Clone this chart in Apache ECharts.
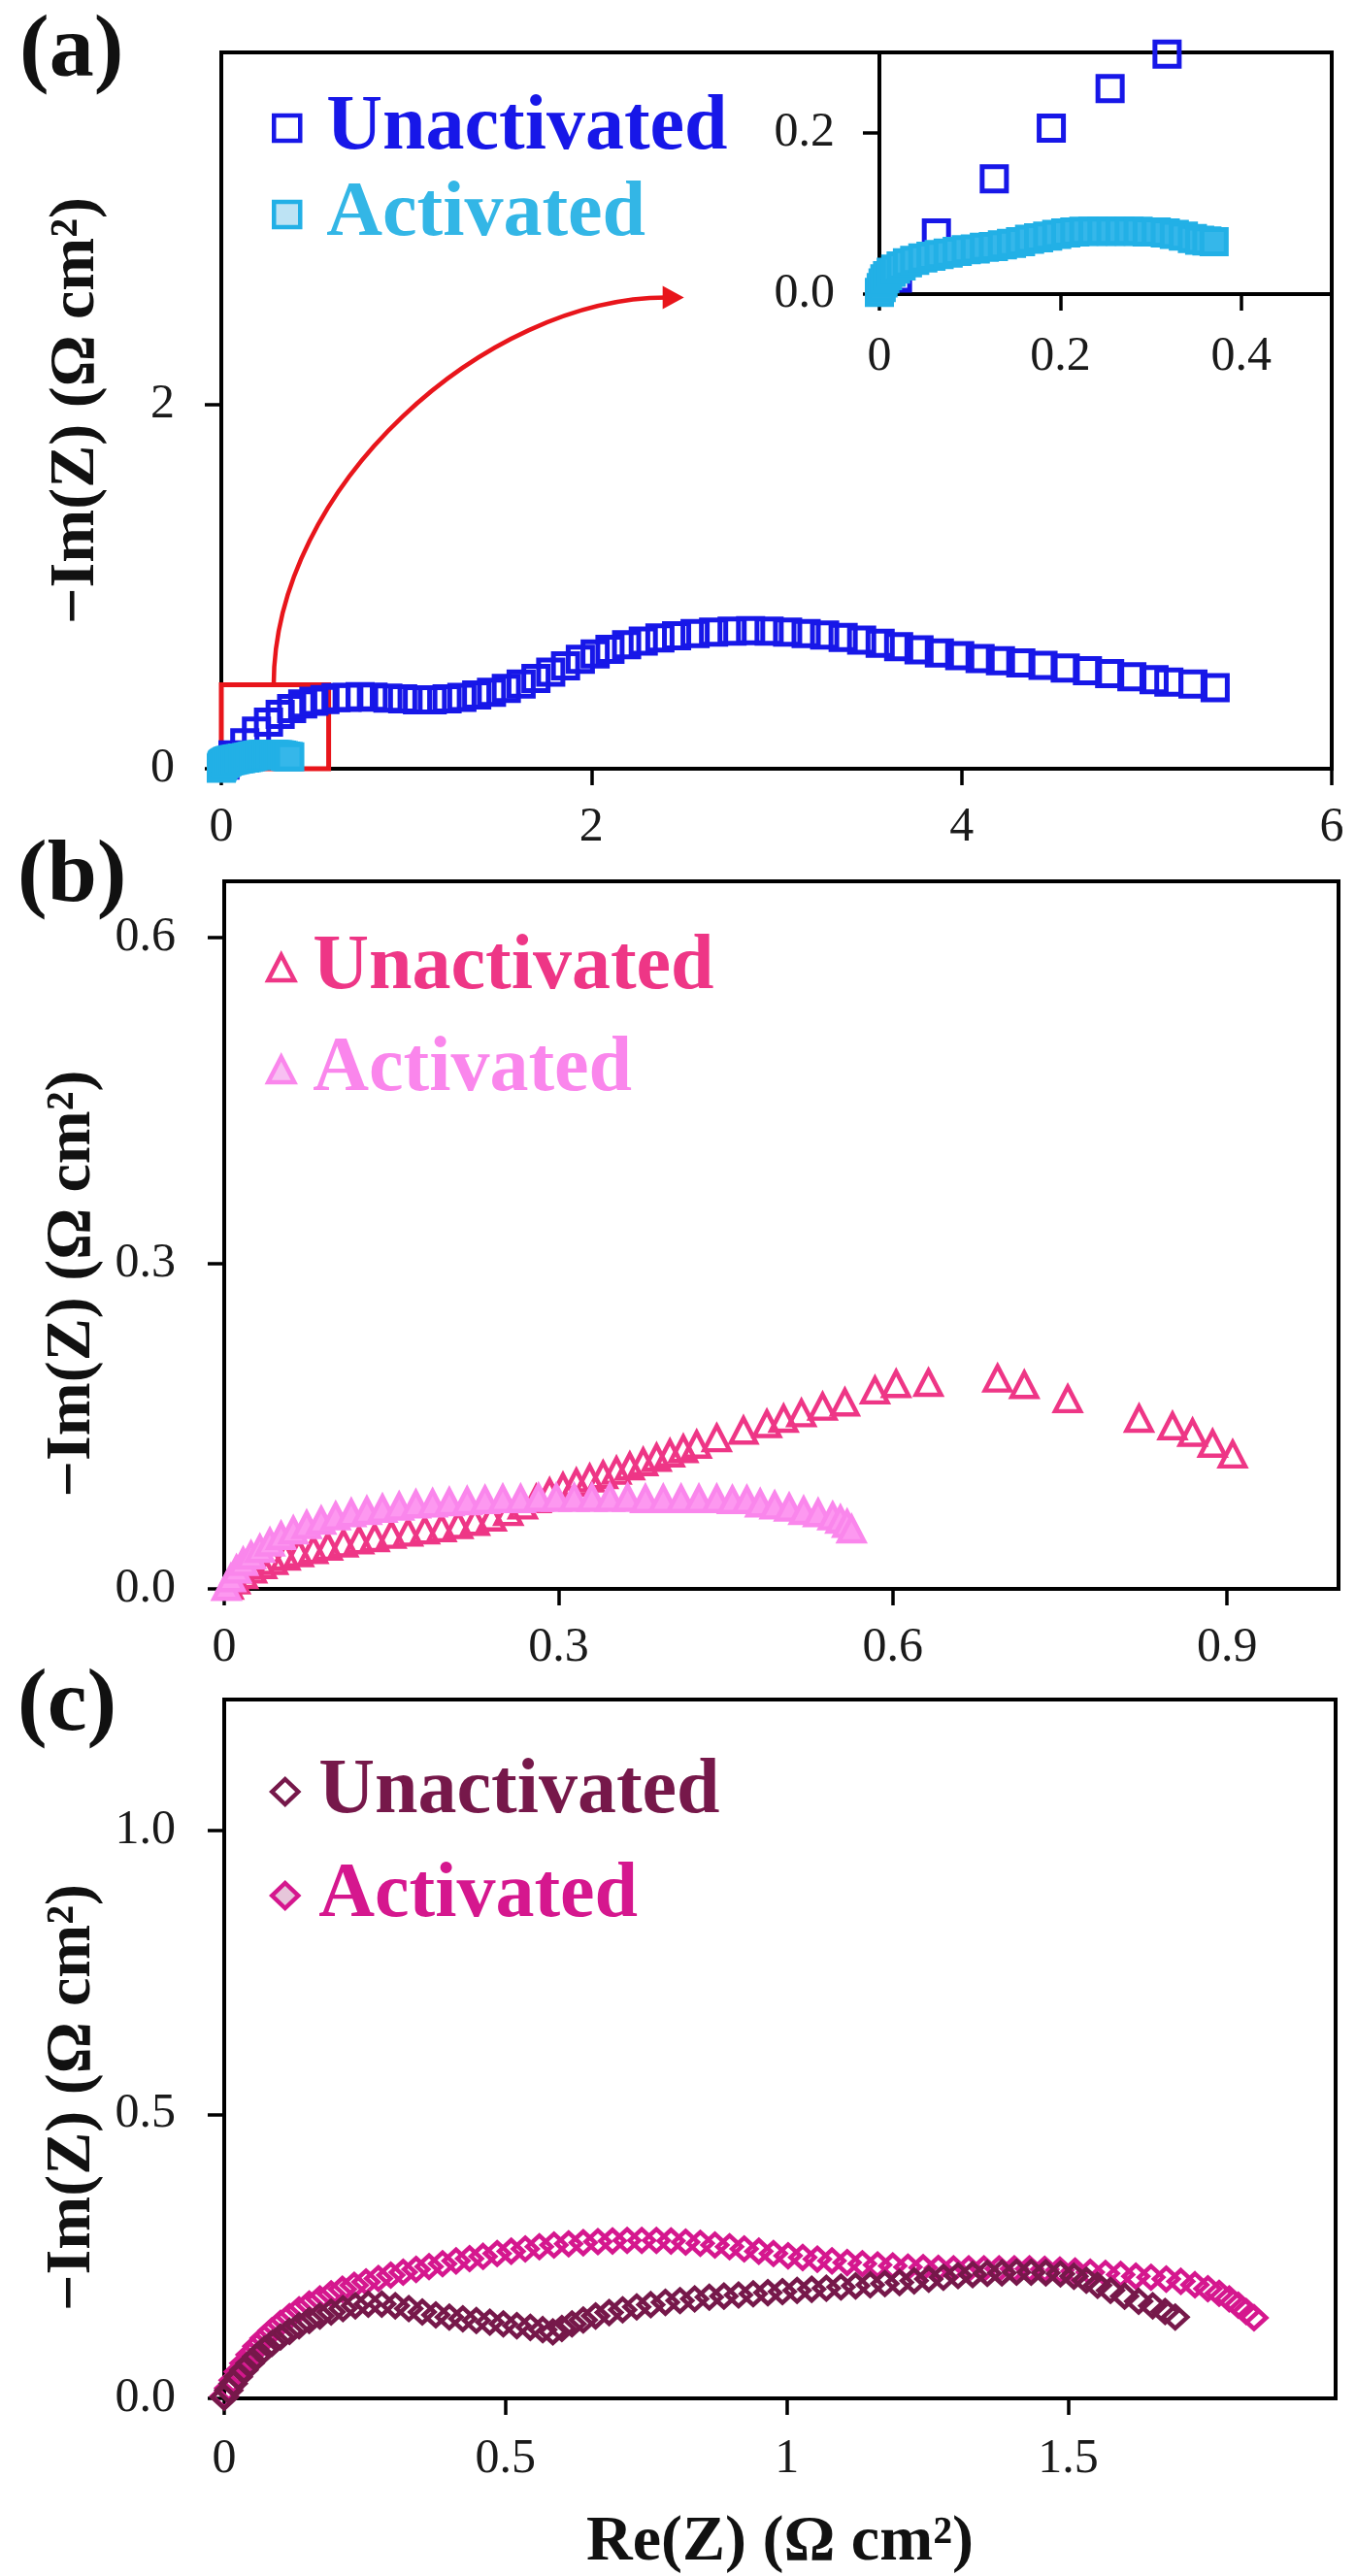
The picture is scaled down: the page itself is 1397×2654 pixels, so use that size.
<!DOCTYPE html>
<html>
<head>
<meta charset="utf-8">
<script src="https://cdn.jsdelivr.net/npm/echarts@6/dist/echarts.min.js"></script>
<style>
    html, body { margin: 0; background: #fff; }
    #chart { width: 1397px; height: 2654px; }
</style>
</head>
<body>
<div id="chart"></div>
<script>
// (a) Re(Z), -Im(Z) in ohm cm2
const unactivatedA = [
    [0.020, 0.020], [0.063, 0.076], [0.127, 0.143], [0.190, 0.206], [0.255, 0.255], [0.318, 0.298],
    [0.380, 0.330], [0.440, 0.355], [0.500, 0.370], [0.560, 0.380], [0.620, 0.390], [0.680, 0.392],
    [0.750, 0.395], [0.820, 0.393], [0.900, 0.388], [0.980, 0.383], [1.060, 0.378], [1.140, 0.378],
    [1.220, 0.383], [1.300, 0.392], [1.380, 0.405], [1.460, 0.420], [1.540, 0.440], [1.620, 0.465],
    [1.700, 0.495], [1.780, 0.530], [1.860, 0.565], [1.940, 0.600], [2.020, 0.630], [2.100, 0.655],
    [2.190, 0.680], [2.280, 0.700], [2.370, 0.717], [2.460, 0.730], [2.560, 0.742], [2.660, 0.750],
    [2.760, 0.755], [2.860, 0.757], [2.960, 0.755], [3.060, 0.750], [3.160, 0.742], [3.260, 0.733],
    [3.360, 0.720], [3.460, 0.705], [3.560, 0.688], [3.660, 0.670], [3.770, 0.652], [3.880, 0.635],
    [3.990, 0.620], [4.100, 0.605], [4.210, 0.592], [4.320, 0.580], [4.440, 0.567], [4.560, 0.553],
    [4.680, 0.538], [4.800, 0.522], [4.920, 0.505], [5.040, 0.488], [5.120, 0.475], [5.250, 0.465],
    [5.370, 0.445]
];
const activatedA = [
    [0.000, 0.002], [0.002, 0.008], [0.004, 0.014], [0.006, 0.019], [0.009, 0.023], [0.013, 0.027],
    [0.018, 0.031], [0.024, 0.035], [0.031, 0.039], [0.039, 0.042], [0.048, 0.045], [0.057, 0.047],
    [0.066, 0.049], [0.076, 0.051], [0.086, 0.053], [0.096, 0.055], [0.106, 0.056], [0.116, 0.058],
    [0.126, 0.059], [0.136, 0.061], [0.146, 0.063], [0.156, 0.065], [0.166, 0.068], [0.176, 0.070],
    [0.186, 0.072], [0.196, 0.074], [0.206, 0.076], [0.216, 0.077], [0.226, 0.078], [0.236, 0.078],
    [0.246, 0.078], [0.256, 0.078], [0.266, 0.078], [0.276, 0.078], [0.286, 0.078], [0.296, 0.077],
    [0.306, 0.077], [0.316, 0.076], [0.326, 0.074], [0.336, 0.072], [0.346, 0.069], [0.354, 0.067],
    [0.362, 0.066], [0.370, 0.065]
];

// (b)
const unactivatedB = [
    [0.004, 0.003], [0.010, 0.008], [0.017, 0.013], [0.025, 0.018], [0.034, 0.022], [0.044, 0.026],
    [0.055, 0.030], [0.067, 0.033], [0.080, 0.036], [0.093, 0.039], [0.107, 0.042], [0.121, 0.045],
    [0.135, 0.047], [0.150, 0.050], [0.165, 0.052], [0.180, 0.054], [0.195, 0.056], [0.210, 0.059],
    [0.225, 0.062], [0.240, 0.066], [0.255, 0.071], [0.268, 0.077], [0.280, 0.083], [0.292, 0.089],
    [0.304, 0.094], [0.316, 0.098], [0.328, 0.102], [0.340, 0.105], [0.352, 0.109], [0.364, 0.113],
    [0.376, 0.117], [0.388, 0.121], [0.400, 0.125], [0.412, 0.129], [0.424, 0.133], [0.442, 0.139],
    [0.466, 0.146], [0.487, 0.152], [0.502, 0.157], [0.518, 0.162], [0.537, 0.168], [0.557, 0.172],
    [0.584, 0.183], [0.603, 0.189], [0.632, 0.190], [0.694, 0.194], [0.718, 0.188], [0.757, 0.175],
    [0.821, 0.157], [0.851, 0.150], [0.869, 0.144], [0.887, 0.134], [0.905, 0.124]
];
const activatedB = [
    [0.002, 0.002], [0.006, 0.010], [0.011, 0.018], [0.017, 0.025], [0.024, 0.031], [0.032, 0.037],
    [0.041, 0.043], [0.051, 0.049], [0.062, 0.054], [0.074, 0.059], [0.087, 0.063], [0.100, 0.067],
    [0.114, 0.070], [0.128, 0.072], [0.142, 0.074], [0.157, 0.076], [0.172, 0.078], [0.187, 0.079],
    [0.202, 0.080], [0.218, 0.081], [0.234, 0.082], [0.250, 0.083], [0.266, 0.083], [0.282, 0.084],
    [0.298, 0.084], [0.314, 0.084], [0.330, 0.084], [0.346, 0.084], [0.362, 0.084], [0.378, 0.083],
    [0.394, 0.083], [0.410, 0.083], [0.426, 0.083], [0.442, 0.083], [0.456, 0.082], [0.469, 0.082],
    [0.481, 0.079], [0.494, 0.077], [0.507, 0.075], [0.520, 0.072], [0.533, 0.070], [0.546, 0.067],
    [0.553, 0.064], [0.559, 0.060], [0.563, 0.055]
];

// (c)
const unactivatedC = [
    [0.000, 0.002], [0.008, 0.014], [0.016, 0.026], [0.025, 0.038], [0.035, 0.050], [0.046, 0.062],
    [0.058, 0.074], [0.071, 0.086], [0.085, 0.097], [0.100, 0.108], [0.116, 0.118], [0.133, 0.128],
    [0.151, 0.137], [0.170, 0.145], [0.190, 0.152], [0.211, 0.158], [0.233, 0.163], [0.256, 0.166],
    [0.280, 0.166], [0.304, 0.163], [0.328, 0.158], [0.352, 0.152], [0.376, 0.147], [0.400, 0.143],
    [0.424, 0.140], [0.448, 0.137], [0.472, 0.134], [0.496, 0.131], [0.520, 0.128], [0.544, 0.125],
    [0.566, 0.121], [0.584, 0.117], [0.600, 0.123], [0.618, 0.131], [0.638, 0.138], [0.660, 0.145],
    [0.684, 0.151], [0.708, 0.156], [0.733, 0.161], [0.758, 0.165], [0.784, 0.169], [0.810, 0.172],
    [0.836, 0.175], [0.862, 0.178], [0.888, 0.180], [0.914, 0.182], [0.940, 0.184], [0.966, 0.186],
    [0.992, 0.188], [1.018, 0.190], [1.044, 0.192], [1.070, 0.194], [1.096, 0.196], [1.122, 0.198],
    [1.148, 0.200], [1.174, 0.202], [1.200, 0.204], [1.226, 0.207], [1.252, 0.210], [1.278, 0.213],
    [1.304, 0.216], [1.330, 0.218], [1.356, 0.220], [1.382, 0.221], [1.408, 0.222], [1.434, 0.222],
    [1.460, 0.221], [1.486, 0.219], [1.510, 0.215], [1.532, 0.208], [1.552, 0.199], [1.575, 0.190],
    [1.600, 0.180], [1.625, 0.171], [1.650, 0.163], [1.672, 0.153], [1.690, 0.143]
];
const activatedC = [
    [0.000, 0.004], [0.008, 0.018], [0.016, 0.032], [0.025, 0.047], [0.035, 0.062], [0.046, 0.077],
    [0.058, 0.092], [0.071, 0.106], [0.085, 0.119], [0.100, 0.132], [0.116, 0.144], [0.133, 0.156],
    [0.151, 0.166], [0.170, 0.175], [0.190, 0.184], [0.210, 0.192], [0.231, 0.199], [0.252, 0.205],
    [0.274, 0.211], [0.296, 0.217], [0.318, 0.222], [0.341, 0.227], [0.364, 0.232], [0.388, 0.237],
    [0.412, 0.242], [0.436, 0.246], [0.460, 0.250], [0.485, 0.255], [0.510, 0.259], [0.535, 0.263],
    [0.560, 0.267], [0.586, 0.270], [0.612, 0.272], [0.638, 0.274], [0.664, 0.276], [0.690, 0.277],
    [0.716, 0.278], [0.742, 0.278], [0.768, 0.278], [0.794, 0.277], [0.820, 0.275], [0.846, 0.273],
    [0.872, 0.270], [0.898, 0.267], [0.924, 0.263], [0.950, 0.259], [0.976, 0.255], [1.002, 0.251],
    [1.028, 0.248], [1.054, 0.245], [1.080, 0.242], [1.107, 0.239], [1.134, 0.237], [1.161, 0.235],
    [1.188, 0.233], [1.215, 0.231], [1.242, 0.230], [1.269, 0.229], [1.296, 0.228], [1.323, 0.228],
    [1.350, 0.228], [1.377, 0.228], [1.404, 0.228], [1.431, 0.228], [1.458, 0.227], [1.485, 0.226],
    [1.512, 0.224], [1.539, 0.222], [1.566, 0.220], [1.593, 0.218], [1.620, 0.215], [1.647, 0.213],
    [1.674, 0.210], [1.700, 0.206], [1.725, 0.200], [1.748, 0.193], [1.768, 0.185], [1.786, 0.175],
    [1.802, 0.164], [1.816, 0.153], [1.830, 0.142]
];

// tick values
const ticksAX = [0, 2, 4, 6];
const ticksAY = [0, 2];
const ticksInsetX = [0, 0.2, 0.4];
const ticksInsetY = [0, 0.2];
const ticksBX = [0, 0.3, 0.6, 0.9];
const ticksBY = [0, 0.3, 0.6];
const ticksCX = [0, 0.5, 1, 1.5];
const ticksCY = [0, 0.5, 1.0];

(function () {
    let chart = echarts.init(document.getElementById('chart'));
    const serif = "'Liberation Serif', 'Times New Roman', serif";

    const blue = '#1717E8', cyan = '#22B0E6';
    const pink = '#EE3686', lightPink = '#FA86EC';
    const maroon = '#76184A', magenta = '#D5178E';
    const red = '#E8151B';

    function valueAxis(grid, min, max, ticks, fmt, margin, extra) {
        return Object.assign({
            type: 'value',
            gridIndex: grid,
            min: min,
            max: max,
            interval: ticks[1] - ticks[0],
            axisLine: { show: true, onZero: false, lineStyle: { color: '#000', width: 4 } },
            axisTick: {
                show: true, inside: false, length: 17, customValues: ticks,
                lineStyle: { color: '#000', width: 3.5 }
            },
            axisLabel: {
                fontFamily: serif, fontSize: 50, color: '#1a1a1a', margin: margin,
                formatter: fmt, customValues: ticks
            },
            splitLine: { show: false }
        }, extra || {});
    }

    const plain = function (v) { return String(v); };
    const oneDec = function (v) { return v.toFixed(1); };

    function yName(shift) {
        return {
            name: '\u2212Im(Z) (\u03A9 cm\u00B2)',
            nameLocation: 'middle',
            nameRotate: 90,
            nameGap: 116,
            nameTextStyle: {
                fontFamily: serif, fontWeight: 'bold', fontSize: 66, color: '#111',
                padding: [0, shift, 0, 0]
            }
        };
    }

    function scatter(name, data, axis, symbol, size, stroke, fill, bw) {
        return {
            name: name,
            type: 'scatter',
            xAxisIndex: axis,
            yAxisIndex: axis,
            data: data,
            symbol: symbol,
            symbolSize: size,
            clip: false,
            itemStyle: { color: fill, borderColor: stroke, borderWidth: bw, opacity: 1 },
            emphasis: { disabled: true },
            silent: true
        };
    }

    function legend(top, left, gap, textPad, items) {
        return {
            orient: 'vertical',
            left: left,
            top: top,
            itemGap: gap,
            itemWidth: 27,
            itemHeight: 26,
            selectedMode: false,
            formatter: function (name) { return name.split('-')[1]; },
            textStyle: {
                fontFamily: serif, fontWeight: 'bold', fontSize: 80,
                padding: [0, 0, 0, textPad]
            },
            data: items
        };
    }

    const none = 'rgba(255,255,255,0)';

    let unA = scatter('a-Unactivated', unactivatedA, 0, 'rect', 25, blue, none, 5);
    // zoom box of the inset
    unA.markArea = {
        silent: true,
        itemStyle: { color: 'rgba(0,0,0,0)', borderColor: red, borderWidth: 5 },
        data: [[{ coord: [0, -0.015] }, { coord: [0.58, 0.46] }]]
    };

    const letters = [
        { type: 'text', left: 20, top: 8, style: { text: '(a)', font: 'bold 92px ' + serif, fill: '#111' } },
        { type: 'text', left: 18, top: 858, style: { text: '(b)', font: 'bold 92px ' + serif, fill: '#111' } },
        { type: 'text', left: 18, top: 1712, style: { text: '(c)', font: 'bold 92px ' + serif, fill: '#111' } }
    ];

    option = {
        backgroundColor: '#fff',
        animation: false,
        grid: [
            { left: 228, top: 54, width: 1144, height: 738, show: true, borderColor: '#000', borderWidth: 4 },
            { left: 906, top: 54, width: 466, height: 249, show: true, borderColor: '#000', borderWidth: 4, backgroundColor: '#fff', z: 3 },
            { left: 231, top: 908, width: 1148, height: 729, show: true, borderColor: '#000', borderWidth: 4 },
            { left: 231, top: 1751, width: 1145, height: 726, show: true, borderColor: '#000', borderWidth: 4 }
        ],
        xAxis: [
            valueAxis(0, 0, 6, ticksAX, plain, 36),
            valueAxis(1, 0, 0.5, ticksInsetX, plain, 40, { z: 4 }),
            valueAxis(2, 0, 1.0, ticksBX, plain, 36),
            valueAxis(3, 0, 1.975, ticksCX, plain, 38, {
                name: 'Re(Z) (\u03A9 cm\u00B2)',
                nameLocation: 'middle',
                nameGap: 116,
                nameTextStyle: { fontFamily: serif, fontWeight: 'bold', fontSize: 66, color: '#111' }
            })
        ],
        yAxis: [
            valueAxis(0, 0, 3.93, ticksAY, plain, 48, yName(0)),
            valueAxis(1, 0, 0.3, ticksInsetY, oneDec, 46, { z: 4 }),
            valueAxis(2, 0, 0.652, ticksBY, oneDec, 50, yName(100)),
            valueAxis(3, 0, 1.23, ticksCY, oneDec, 50, yName(100))
        ],
        legend: [
            legend(87, 275, 9, 22, [
                { name: 'a-Unactivated', icon: 'rect', itemStyle: { color: '#fff', borderColor: blue, borderWidth: 4.5 }, textStyle: { color: blue } },
                { name: 'a-Activated', icon: 'rect', itemStyle: { color: '#BDE3F4', borderColor: cyan, borderWidth: 4.5 }, textStyle: { color: '#33B6E6' } }
            ]),
            legend(952, 269, 25, 14, [
                { name: 'b-Unactivated', icon: 'triangle', itemStyle: { color: '#fff', borderColor: pink, borderWidth: 4.5 }, textStyle: { color: pink } },
                { name: 'b-Activated', icon: 'triangle', itemStyle: { color: '#F8C0F2', borderColor: lightPink, borderWidth: 4.5 }, textStyle: { color: lightPink } }
            ]),
            legend(1801, 273, 27, 16, [
                { name: 'c-Unactivated', icon: 'diamond', itemStyle: { color: '#fff', borderColor: maroon, borderWidth: 4.5 }, textStyle: { color: maroon } },
                { name: 'c-Activated', icon: 'diamond', itemStyle: { color: '#E6C6DA', borderColor: magenta, borderWidth: 4.5 }, textStyle: { color: magenta } }
            ])
        ],
        graphic: letters,
        series: [
            unA,
            scatter('a-Activated', activatedA, 0, 'rect', 25, cyan, '#35B7EA', 5),
            Object.assign(scatter('inset-Unactivated', unactivatedA.filter(function (p) { return p[1] <= 0.31; }), 1, 'rect', 25, blue, none, 5), { z: 5 }),
            Object.assign(scatter('inset-Activated', activatedA, 1, 'rect', 25, cyan, '#35B7EA', 5), { z: 5 }),
            scatter('b-Unactivated', unactivatedB, 2, 'triangle', [26, 25], pink, none, 4.5),
            scatter('b-Activated', activatedB, 2, 'triangle', [26, 25], lightPink, '#FD98F0', 4.5),
            scatter('c-Activated', activatedC, 3, 'diamond', [25, 23], magenta, none, 4.5),
            scatter('c-Unactivated', unactivatedC, 3, 'diamond', [25, 23], maroon, none, 4.5)
        ]
    };

    chart.setOption(option);

    // curved arrow from the zoom box to the inset, placed in panel (a) data space
    const px = function (p) { return chart.convertToPixel({ gridIndex: 0 }, p); };
    const p0 = px([0.283, 0.46]);
    const c1 = px([0.283, 1.55]);
    const c2 = px([1.43, 2.585]);
    const tip = px([2.50, 2.585]);
    const dx = tip[0] - c2[0], dy = tip[1] - c2[1];
    const len = Math.sqrt(dx * dx + dy * dy);
    const ux = dx / len, uy = dy / len;
    const base = [tip[0] - ux * 22, tip[1] - uy * 22];

    chart.setOption({
        graphic: letters.concat([
            {
                type: 'bezierCurve', silent: true, z: 10,
                shape: { x1: p0[0], y1: p0[1], cpx1: c1[0], cpy1: c1[1], cpx2: c2[0], cpy2: c2[1], x2: base[0] + ux * 4, y2: base[1] + uy * 4 },
                style: { stroke: red, lineWidth: 4.5, fill: null }
            },
            {
                type: 'polygon', silent: true, z: 10,
                shape: { points: [tip, [base[0] - uy * 12, base[1] + ux * 12], [base[0] + uy * 12, base[1] - ux * 12]] },
                style: { fill: red }
            }
        ])
    });
})();
</script>
</body>
</html>
